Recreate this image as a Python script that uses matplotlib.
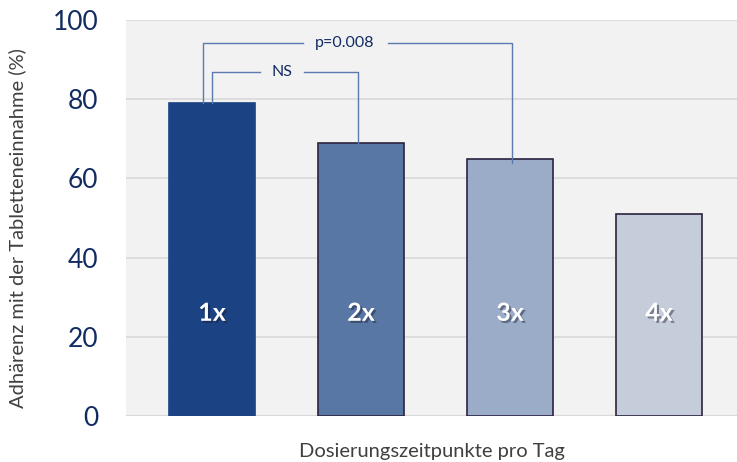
import matplotlib
matplotlib.use("Agg")
import matplotlib.pyplot as plt
import matplotlib.patheffects as pe

plt.rcParams['font.family'] = ['Lato', 'DejaVu Sans']

# adherence per dosing frequency (%)
labels = ["1x", "2x", "3x", "4x"]
adherence = [79, 69, 65, 51]
bar_colors = ["#1b4282", "#5877a5", "#9aacc7", "#c5ccda"]
edge_colors = ["#1b4282", "#2b2340", "#2b2340", "#2b2340"]
yticks = [0, 20, 40, 60, 80, 100]

navy = "#122c62"
line_col = "#5b7bb0"

fig = plt.figure(figsize=(7.37, 4.62), dpi=100)
fig.patch.set_facecolor("white")
ax = fig.add_axes([0.171, 0.0985, 0.829, 0.859])
ax.set_facecolor("#f2f2f2")

x = range(len(labels))
ax.bar(x, adherence, width=0.577, color=bar_colors, edgecolor=edge_colors,
       linewidth=1.2, zorder=3)

# labels inside the bars, white with a soft shadow
for i, lab in enumerate(labels):
    t = ax.text(i, 26, lab, ha="center", va="center", color="white",
                fontsize=18, fontweight="bold", zorder=5)
    t.set_path_effects([pe.SimplePatchShadow(offset=(1.5, -1.5), shadow_rgbFace="#1a1a2e", alpha=0.45),
                        pe.Normal()])

# significance brackets
def bracket(x0, x1, y, y0, y1, text, tx, gap0, gap1):
    ax.plot([x0, x0, gap0], [y0, y, y], color=line_col, lw=1, zorder=4)
    ax.plot([gap1, x1, x1], [y, y, y1], color=line_col, lw=1, zorder=4)
    ax.text(tx, y, text, ha="center", va="center", color=navy, fontsize=11.5, zorder=5)

bracket(-0.06, 2.01, 94.2, adherence[0], adherence[2] - 1, "p=0.008", 0.89, 0.61, 1.18)
bracket(0.0, 0.98, 86.9, adherence[0], adherence[1], "NS", 0.47, 0.32, 0.62)

ax.set_xlim(-0.577, 3.523)
ax.set_ylim(0, 100)
ax.set_yticks(yticks)
ax.set_xticks([])
ax.grid(axis="y", color="#d9d9d9", lw=1.2, zorder=0)
ax.set_axisbelow(True)
for s in ax.spines.values():
    s.set_visible(False)
ax.tick_params(axis="y", length=0, labelsize=19, labelcolor=navy, pad=20)
ax.axhline(0, color="#d9d9d9", lw=1.5, zorder=2)

fig.text(17 / 737, 1 - 228 / 462, "Adhärenz mit der Tabletteneinnahme (%)", rotation=90,
         ha="center", va="center", fontsize=14.5, color="#404040")
fig.text(432 / 737, 1 - 451 / 462, "Dosierungszeitpunkte pro Tag",
         ha="center", va="center", fontsize=14.5, color="#404040")

fig.savefig("out.png", dpi=100)
